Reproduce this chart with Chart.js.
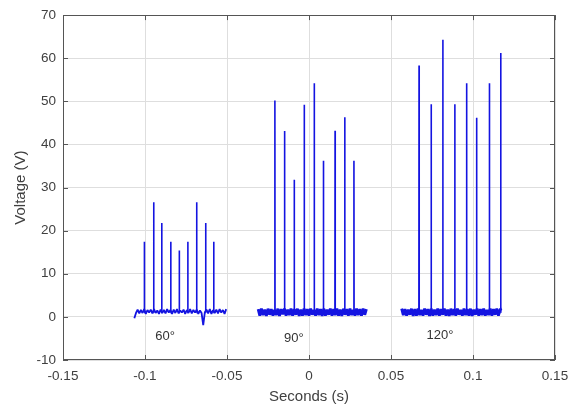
<!DOCTYPE html>
<html>
<head>
<meta charset="utf-8">
<script src="https://cdn.jsdelivr.net/npm/chart.js@4.4.0/dist/chart.umd.min.js"></script>
<style>
html, body { margin: 0; padding: 0; background: #fff; }
#wrap { width: 568px; height: 408px; }
</style>
</head>
<body>
<div id="wrap"><canvas id="chart"></canvas></div>
<script>
// axis ticks
const xTicks = [-0.15, -0.1, -0.05, 0, 0.05, 0.1, 0.15];
const yTicks = [-10, 0, 10, 20, 30, 40, 50, 60, 70];

// baseline noise sample spacing (s)
const dt = 0.001;

// 60° burst
const noise60Start = -0.1065;
const noise60 = [-0.3, 0.9, 1.7, 0.8, 1.6, 0.9, 1.8, 0.7, 1.6, 1.0, 1.7, 0.8, 1.8, 0.9, 1.5, 0.7,
                 1.7, 0.9, 1.6, 0.8, 1.8, 1.0, 1.6, 0.7, 1.7, 0.9, 1.8, 0.8, 1.5, 1.0, 1.7, 0.7,
                 1.6, 0.9, 1.8, 0.8, 1.6, 1.0, 1.7, 0.7, 1.5, 0.9, -1.9, 1.1, 1.7, 0.8, 1.8, 0.7,
                 1.6, 0.9, 1.7, 0.8, 1.8, 1.0, 1.6, 0.7, 1.8];
const spike60Times = [-0.1004, -0.0947, -0.0898, -0.0843, -0.0791, -0.0739, -0.0685, -0.0630, -0.0581];
const spike60Peaks = [17.4, 26.6, 21.8, 17.4, 15.4, 17.4, 26.6, 21.8, 17.4];

// 90° burst
const noise90Start = -0.031;
const noise90 = [1.8, 0.3, 1.9, 0.4, 1.7, 0.2, 1.9, 0.5, 1.8, 0.3, 1.6, 0.4, 1.9, 0.2, 1.8, 0.6,
                 1.9, 0.3, 1.7, 0.4, 1.9, 0.3, 1.8, 0.5, 1.9, 0.2, 1.7, 0.3, 1.9, 0.4, 1.8, 0.3,
                 1.9, 0.5, 1.6, 0.3, 1.9, 0.4, 1.8, 0.2, 1.9, 0.3, 1.7, 0.5, 1.9, 0.3, 1.8, 0.4,
                 1.9, 0.3, 1.7, 0.2, 1.9, 0.5, 1.8, 0.3, 1.9, 0.4, 1.6, 0.3, 1.9, 0.4, 1.8, 0.3,
                 1.9, 0.5, 1.8];
const spike90Times = [-0.0208, -0.0149, -0.0090, -0.0029, 0.0032, 0.0088, 0.0159, 0.0218, 0.0274];
const spike90Peaks = [50.2, 43.1, 31.8, 49.2, 54.2, 36.2, 43.2, 46.3, 36.2];

// 120° burst
const noise120Start = 0.0565;
const noise120 = [1.9, 0.4, 1.8, 0.3, 1.7, 0.5, 1.9, 0.2, 1.8, 0.3, 1.9, 0.4, 1.6, 0.3, 1.9, 0.5,
                  1.8, 0.2, 1.9, 0.3, 1.7, 0.4, 1.9, 0.3, 1.8, 0.5, 1.9, 0.3, 1.7, 0.2, 1.9, 0.4,
                  1.8, 0.3, 1.9, 0.5, 1.6, 0.3, 1.9, 0.4, 1.8, 0.3, 1.9, 0.2, 1.7, 0.5, 1.9, 0.3,
                  1.8, 0.4, 1.9, 0.3, 1.6, 0.4, 1.9, 0.3, 1.8, 0.5, 1.9, 0.3, 1.7, 1.9];
const spike120Times = [0.0671, 0.0745, 0.0816, 0.0889, 0.0961, 0.1022, 0.1100, 0.1169];
const spike120Peaks = [58.3, 49.3, 64.3, 49.3, 54.2, 46.2, 54.2, 61.2];

// annotations
const groupLabels = ['60°', '90°', '120°'];
const labelX = [-0.0877, -0.0092, 0.0799];
const labelY = [-4.6, -4.9, -4.2];

const LINE = 'rgb(20,20,225)';
const FONT = '"Liberation Sans", Arial, Helvetica, sans-serif';

function noiseTrace(start, noise) {
    return noise.map((v, i) => ({ x: start + i * dt, y: v }));
}

// each spike rises from the baseline and drops back, with a gap after it
function spikeTrace(times, peaks) {
    const pts = [];
    times.forEach((t, i) => {
        pts.push({ x: t - 0.0001, y: 1.0 }, { x: t, y: peaks[i] }, { x: t + 0.0001, y: 1.0 }, { x: t + 0.0002, y: null });
    });
    return pts;
}

function dataset(pts, width) {
    return {
        data: pts,
        showLine: true,
        spanGaps: false,
        borderColor: LINE,
        borderWidth: width,
        borderJoinStyle: 'bevel',
        pointRadius: 0,
        fill: false,
        tension: 0
    };
}

// box, inward ticks and burst labels
const boxPlugin = {
    id: 'box',
    afterDatasetsDraw(chart) {
        const { ctx, chartArea: a, scales: { x, y } } = chart;
        ctx.save();
        ctx.fillStyle = '#333';
        ctx.font = '13px ' + FONT;
        ctx.textAlign = 'center';
        ctx.textBaseline = 'middle';
        groupLabels.forEach((t, i) => {
            ctx.fillText(t, x.getPixelForValue(labelX[i]), y.getPixelForValue(labelY[i]));
        });
        ctx.strokeStyle = '#555';
        ctx.lineWidth = 1;
        ctx.beginPath();
        xTicks.forEach(v => {
            const px = Math.round(x.getPixelForValue(v)) + 0.5;
            ctx.moveTo(px, a.bottom); ctx.lineTo(px, a.bottom - 5);
            ctx.moveTo(px, a.top); ctx.lineTo(px, a.top + 5);
        });
        yTicks.forEach(v => {
            const py = Math.round(y.getPixelForValue(v)) + 0.5;
            ctx.moveTo(a.left, py); ctx.lineTo(a.left + 5, py);
            ctx.moveTo(a.right, py); ctx.lineTo(a.right - 5, py);
        });
        ctx.stroke();
        ctx.strokeRect(Math.round(a.left) + 0.5, Math.round(a.top) + 0.5,
                       Math.round(a.right - a.left) - 1, Math.round(a.bottom - a.top) - 1);
        ctx.restore();
    }
};

new Chart(document.getElementById('chart'), {
    type: 'scatter',
    data: {
        datasets: [
            dataset(noiseTrace(noise60Start, noise60), 1.8),
            dataset(noiseTrace(noise90Start, noise90), 2.8),
            dataset(noiseTrace(noise120Start, noise120), 2.8),
            dataset(spikeTrace(spike60Times, spike60Peaks), 1.6),
            dataset(spikeTrace(spike90Times, spike90Peaks), 1.6),
            dataset(spikeTrace(spike120Times, spike120Peaks), 1.6)
        ]
    },
    options: {
        responsive: true,
        maintainAspectRatio: false,
        animation: false,
        layout: { padding: { left: 0, top: 10, right: 13, bottom: 0 } },
        plugins: { legend: { display: false }, tooltip: { enabled: false } },
        scales: {
            x: {
                type: 'linear',
                min: -0.15,
                max: 0.15,
                afterBuildTicks: s => { s.ticks = xTicks.map(v => ({ value: v })); },
                afterFit: s => { s.height = 48; s.paddingLeft = 0; s.paddingRight = 0; },
                grid: { color: '#dedede', drawTicks: false },
                border: { display: false },
                ticks: {
                    autoSkip: false,
                    maxRotation: 0,
                    padding: 8,
                    color: '#404040',
                    font: { family: FONT, size: 13.5 },
                    callback: v => String(v)
                },
                title: {
                    display: true,
                    text: 'Seconds (s)',
                    color: '#404040',
                    font: { family: FONT, size: 15, lineHeight: 1.2 },
                    padding: { top: 0, bottom: 2 }
                }
            },
            y: {
                min: -10,
                max: 70,
                afterBuildTicks: s => { s.ticks = yTicks.map(v => ({ value: v })); },
                afterFit: s => { s.width = 63; },
                grid: { color: '#dedede', drawTicks: false },
                border: { display: false },
                ticks: {
                    autoSkip: false,
                    padding: 7,
                    color: '#404040',
                    font: { family: FONT, size: 13.5 }
                },
                title: {
                    display: true,
                    text: 'Voltage (V)',
                    color: '#404040',
                    font: { family: FONT, size: 15, lineHeight: 1.2 },
                    padding: { top: 12, bottom: 0 }
                }
            }
        }
    },
    plugins: [boxPlugin]
});
</script>
</body>
</html>
